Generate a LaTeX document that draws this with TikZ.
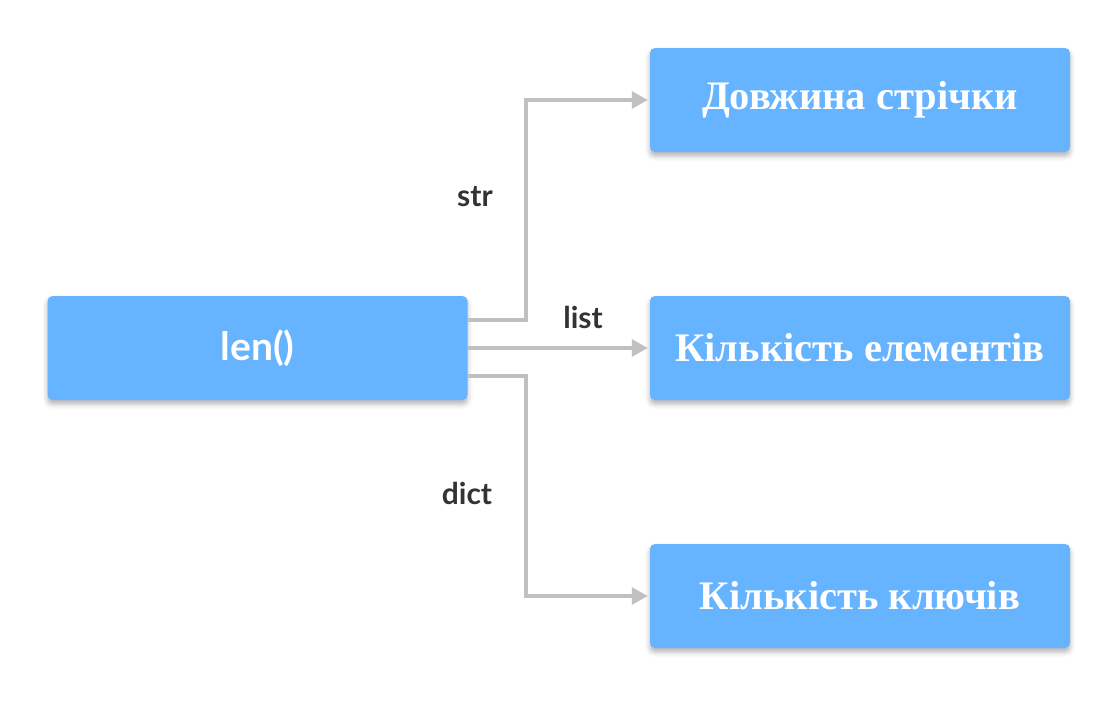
\documentclass[tikz,border=0pt]{standalone}
\usepackage{fontspec}
\setmainfont{Liberation Serif}
\newfontfamily\latofont{Lato}
\usetikzlibrary{shadows.blur,arrows.meta}
\definecolor{boxblue}{HTML}{66B3FF}
\definecolor{linegray}{HTML}{C0C0C0}
\definecolor{labeltext}{HTML}{333333}
\tikzset{
  box/.style={rectangle, rounded corners=5pt, fill=boxblue, minimum width=420pt, minimum height=104pt,
    inner sep=0pt, text=white,
    blur shadow={shadow xshift=0pt, shadow yshift=-4pt, shadow blur radius=5pt, shadow opacity=30}},
  resbox/.style={box, font=\fontsize{40.5}{44}\selectfont\bfseries},
  srcbox/.style={box, font=\fontsize{39}{42}\selectfont\latofont\bfseries},
  conn/.style={draw=linegray, line width=3.2pt, -{Triangle[length=16pt,width=17pt]}},
  lbl/.style={text=labeltext, font=\fontsize{30}{33}\selectfont\latofont\bfseries}
}
\begin{document}
\begin{tikzpicture}[x=1pt,y=-1pt]
\useasboundingbox (0,0) rectangle (1112,712);
\node[srcbox] (len) at (257.5,348) {len()};
\node[resbox] (r1) at (860,100) {Довжина стрічки};
\node[resbox] (r2) at (860,348) {Кількість елементів};
\node[resbox] (r3) at (860,596) {Кількість ключів};
\coordinate (s1) at ([yshift=28pt]len.east);
\coordinate (s3) at ([yshift=-28pt]len.east);
\draw[conn] (s1) -- (526,320) |- ([xshift=-2pt]r1.west);
\draw[conn] (len.east) -- ([xshift=-2pt]r2.west);
\draw[conn] (s3) -- (526,376) |- ([xshift=-2pt]r3.west);
\node[lbl] (lstr) at (475,197) {str};
\node[lbl] (llist) at (583,317) {list};
\node[lbl] (ldict) at (467,493) {dict};
\end{tikzpicture}
\end{document}
